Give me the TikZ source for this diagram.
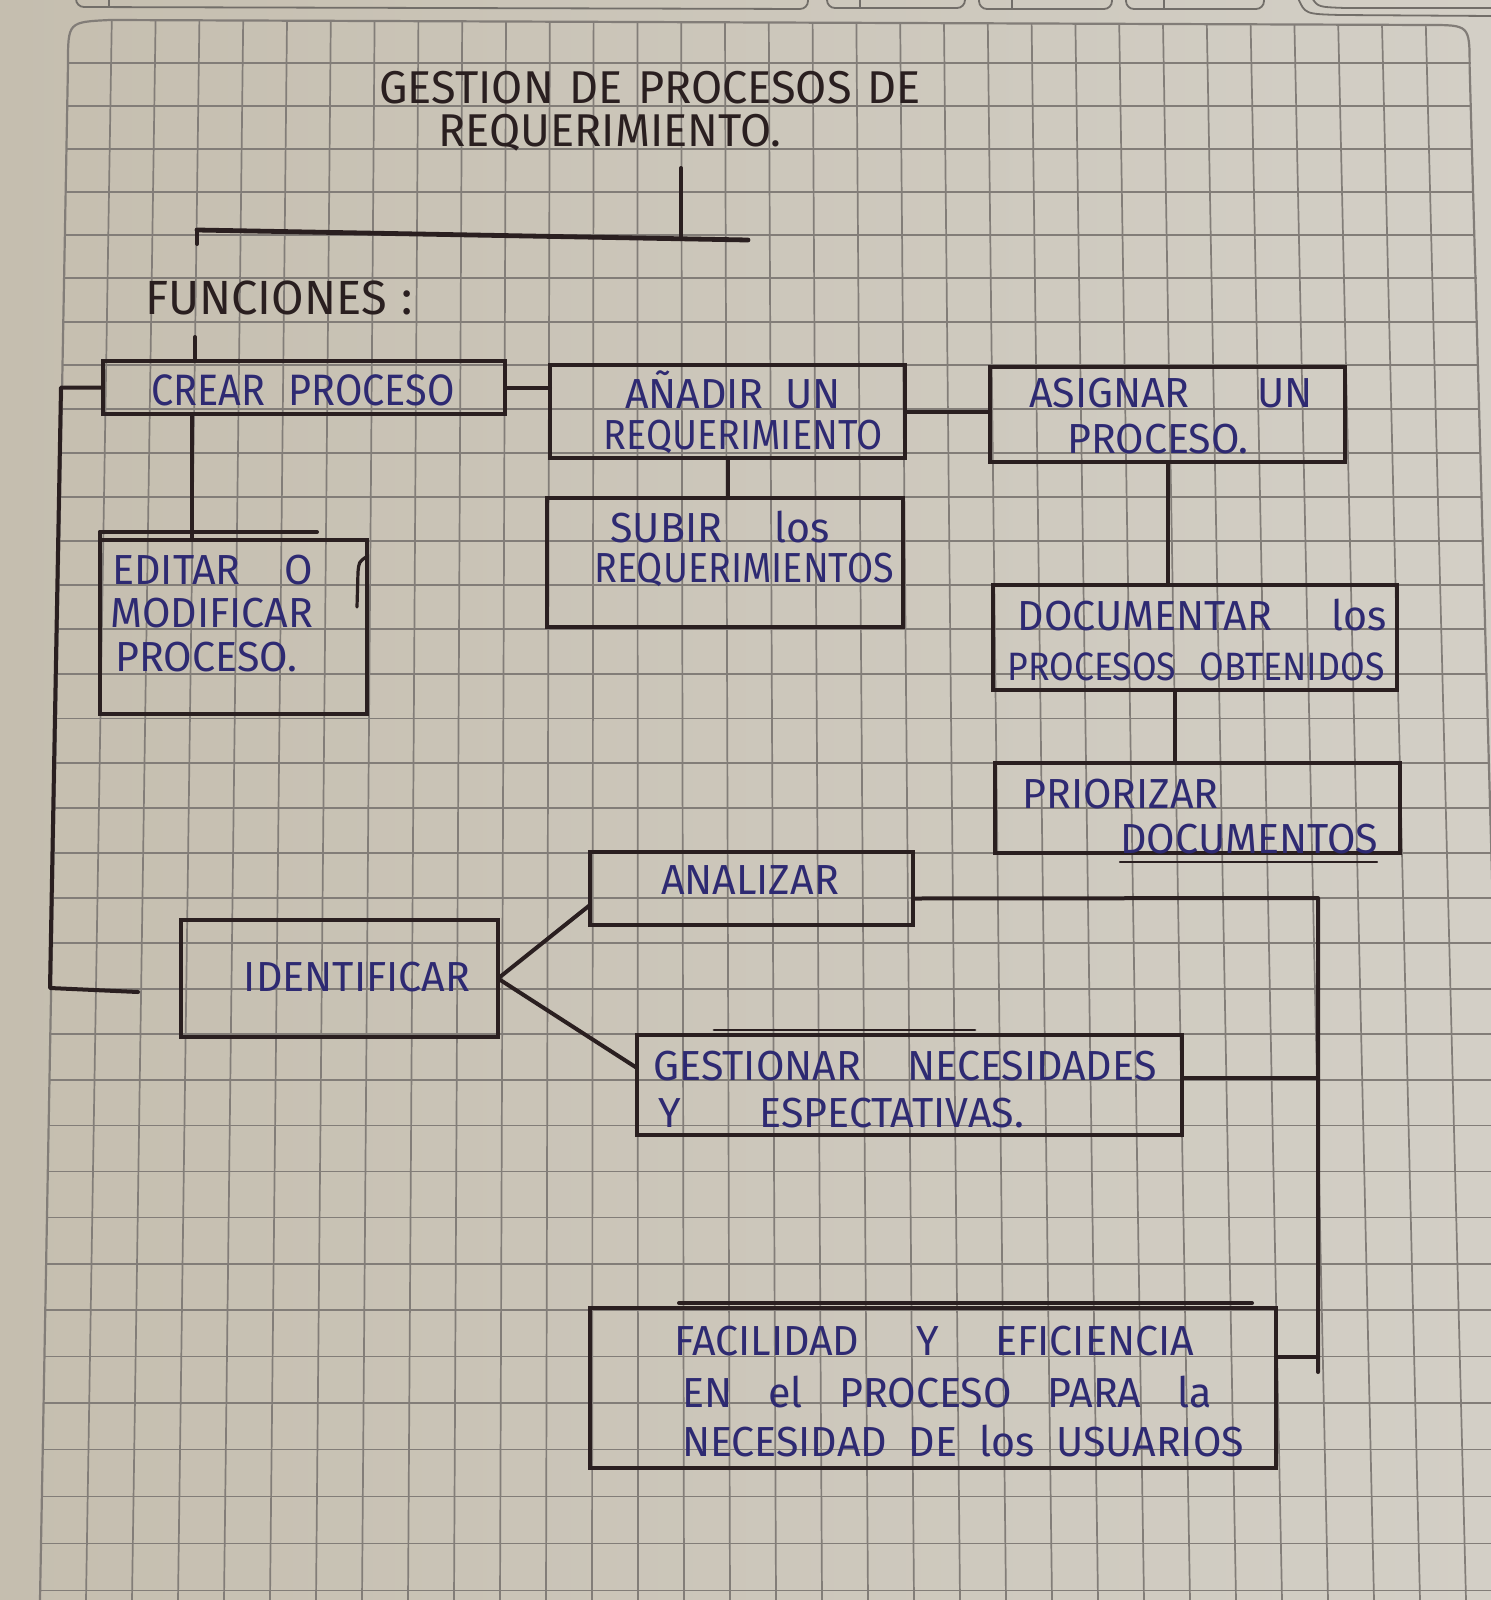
\documentclass[tikz,border=0pt]{standalone}
\usepackage{fontspec}
\setmainfont{Fira Sans}
\newfontfamily\hand[FakeStretch=0.98]{Fira Sans}
\newfontfamily\handn[FakeStretch=0.9]{Fira Sans}
\usetikzlibrary{fit}
\definecolor{paperL}{HTML}{C5BEAF}
\definecolor{paperR}{HTML}{D3CFC6}
\definecolor{gridc}{HTML}{827D78}
\definecolor{inkk}{HTML}{2A1F20}
\definecolor{inkb}{HTML}{2E2A72}
\definecolor{tabc}{HTML}{726E69}
\begin{document}
\begin{tikzpicture}[x=0.5pt,y=-0.5pt,
  gridline/.style={draw=gridc, line width=0.85pt},
  tabline/.style={draw=tabc, line width=0.9pt},
  boxe/.style={draw=inkk, line width=2.2pt, inner sep=0pt, outer sep=0pt},
  conn/.style={draw=inkk, line width=2pt, line cap=round, line join=round},
  btxt/.style={text=inkb, font=\hand\fontsize{21}{24}\selectfont, inner sep=0pt},
  ktxt/.style={text=inkk, font=\hand\fontsize{23}{26}\selectfont, inner sep=0pt}]

\useasboundingbox (0,0) rectangle (1491,1600);
\shade[left color=paperL, right color=paperR] (0,0) rectangle (1491,1600);

\begin{scope}
\clip (0,0) rectangle (1491,1600);
\foreach \i in {1,...,31}{
  \pgfmathsetmacro\xt{68+43.8*\i}
  \pgfmathsetmacro\xb{40+46*\i}
  \pgfmathsetmacro\yt{20+0.003354*\xt}
  \draw[gridline] (\xt,\yt) -- (\xb,1600);
}
\foreach \j in {0,...,34}{
  \pgfmathsetmacro\yy{63+42.72*\j+0.0648*\j*\j}
  \pgfmathsetmacro\xl{68-0.017722*(\yy-20)}
  \pgfmathsetmacro\xr{1469.6+0.026835*(\yy-20)}
  \draw[gridline] (\xl,\yy) -- (\xr,\yy);
}
\draw[gridline, line width=1.1pt] (40,1600) -- (68,64) .. controls (68,22) .. (110,20) -- (1428,25) .. controls (1469.6,25) .. (1469.6,66) -- (1512,1600);
% tabs at the top edge
\draw[tabline, rounded corners=4pt] (76,-12) -- (76,7) -- (808,9) -- (808,-12);
\draw[tabline] (109,-2) -- (109,7);
\draw[tabline, rounded corners=4pt] (827,-12) -- (827,8) -- (965,8) -- (965,-12);
\draw[tabline] (860,-2) -- (860,8);
\draw[tabline, rounded corners=4pt] (979,-12) -- (979,9) -- (1112,9) -- (1112,-12);
\draw[tabline] (1012,-2) -- (1012,9);
\draw[tabline, rounded corners=4pt] (1126,-12) -- (1126,9) -- (1264,9) -- (1264,-12);
\draw[tabline] (1164,-2) -- (1164,9);
\draw[tabline] (1298,-2) .. controls (1305,14) .. (1340,15) -- (1491,16);
\draw[tabline] (1312,-2) .. controls (1318,7) .. (1345,8) -- (1491,8);
\end{scope}

% title
\node[ktxt] (t1) at (650,88) {\makebox[270.5pt][s]{GESTION DE PROCESOS DE}};
\node[ktxt] (t2) at (610,133) {REQUERIMIENTO.};
\coordinate (tv) at (681,168);
\coordinate (tj) at (681,237);
\coordinate (hl) at (197,230);
\coordinate (hr) at (748,240);
\draw[conn] (tv) -- (tj);
\draw[conn, line width=2.4pt] (hl) -- (hr);
\draw[conn] (hl) -- ++(0,14);
\node[ktxt, font=\hand\fontsize{24}{26}\selectfont] (fun) at (279,298) {\makebox[134pt][s]{FUNCIONES :}};

% boxes
\node[boxe, fit={(103,361) (505,414)}] (crear) {};
\node[boxe, fit={(550,365) (905,458)}] (anadir) {};
\node[boxe, fit={(990,367) (1345,462)}] (asignar) {};
\node[boxe, fit={(547,498) (903,627)}] (subir) {};
\node[boxe, fit={(100,540) (367,714)}] (editar) {};
\node[boxe, fit={(993,585) (1397,690)}] (docu) {};
\node[boxe, fit={(995,763) (1400,853)}] (prior) {};
\node[boxe, fit={(590,852) (913,925)}] (anal) {};
\node[boxe, fit={(181,920) (498,1037)}] (ident) {};
\node[boxe, fit={(637,1035) (1182,1135)}] (gest) {};
\node[boxe, fit={(590,1308) (1276,1468)}] (fac) {};

% texts
\node[btxt, font=\handn\fontsize{22}{24}\selectfont] (crearT) at (303,390) {\makebox[151.5pt][s]{CREAR PROCESO}};
\node[btxt] (anadirT1) at (733,390) {\makebox[108pt][s]{AÑADIR UN}};
\node[btxt, font=\handn\fontsize{21}{24}\selectfont] (anadirT2) at (743,437) {REQUERIMIENTO};
\node[btxt] (asigT1) at (1171,393) {\makebox[142pt][s]{ASIGNAR UN}};
\node[btxt] (asigT2) at (1158,439) {PROCESO.};
\node[btxt] (subT1) at (720,527) {\makebox[109.5pt][s]{SUBIR los}};
\node[btxt, font=\handn\fontsize{21}{24}\selectfont] (subT2) at (744,570) {REQUERIMIENTOS};
\node[btxt, anchor=west] (edT1) at (112,570) {\makebox[100.5pt][s]{EDITAR O}};
\node[btxt, anchor=west] (edT2) at (110,613) {MODIFICAR};
\node[btxt, anchor=west] (edT3) at (115,657) {PROCESO.};
\node[btxt] (docT1) at (1202,615) {\makebox[184.5pt][s]{DOCUMENTAR los}};
\node[btxt, font=\handn\fontsize{19.8}{22}\selectfont] (docT2) at (1196,667) {\makebox[188.5pt][s]{PROCESOS OBTENIDOS}};
\node[btxt, anchor=west] (prT1) at (1022,794) {PRIORIZAR};
\node[btxt, anchor=west] (prT2) at (1120,839) {DOCUMENTOS};
\node[btxt] (anT) at (750,880) {ANALIZAR};
\node[btxt] (idT) at (357,977) {IDENTIFICAR};
\node[btxt] (gT1) at (905,1066) {\makebox[251.5pt][s]{GESTIONAR NECESIDADES}};
\node[btxt] (gT2) at (841,1113) {\makebox[183pt][s]{Y ESPECTATIVAS.}};
\node[btxt] (fT1) at (934,1341) {\makebox[260pt][s]{FACILIDAD Y EFICIENCIA}};
\node[btxt] (fT2) at (947,1392) {\makebox[265pt][s]{EN el PROCESO PARA la}};
\node[btxt] (fT3) at (963,1441) {\makebox[281pt][s]{NECESIDAD DE los USUARIOS}};

% connectors
\coordinate (f1) at (195,337);
\draw[conn] (f1) -- (f1 |- crear.north);
\draw[conn] (crear.east) -- (crear.east -| anadir.west);
\draw[conn] (anadir.east) -- (anadir.east -| asignar.west);
\draw[conn] (anadir.south) -- (anadir.south |- subir.north);
\coordinate (e1) at (192,0);
\draw[conn] (crear.south -| e1) -- (editar.north -| e1);
\draw[conn] (asignar.south) -- (asignar.south |- docu.north);
\coordinate (d1) at (1175,0);
\draw[conn] (docu.south -| d1) -- (prior.north -| d1);
\coordinate (L1) at (61,387.5);
\coordinate (L2) at (50,988);
\coordinate (idl) at (138,992);
\draw[conn] (crear.west) -- (L1) -- (L2) -- (idl);
\draw[conn] (ident.east) -- ([yshift=10pt]anal.south west);
\draw[conn] (ident.east) -- ([yshift=8.5pt]gest.west);
\coordinate (R1) at (1318,898);
\coordinate (R3) at (1318,1372);
\draw[conn] ([yshift=-5pt]anal.east) -- (R1) -- (R3);
\draw[conn] ([yshift=3.5pt]gest.east) -- ([yshift=3.5pt]gest.east -| R1);
\draw[conn] ([yshift=15.5pt]fac.east) -- ([yshift=15.5pt]fac.east -| R1);

% extra pen strokes
\draw[conn] (100,532) -- (317,532);
\draw[conn] (100,532) -- (100,540);
\draw[conn, line width=1.6pt] (357,607) -- (358,572) .. controls (359,562) .. (366,557);
\draw[conn, line width=1.4pt] (714,1030) -- (975,1030);
\draw[conn] (679,1303) -- (1252,1303);
\draw[conn, line width=1.2pt] (1120,862) -- (1377,862);
\end{tikzpicture}
\end{document}
